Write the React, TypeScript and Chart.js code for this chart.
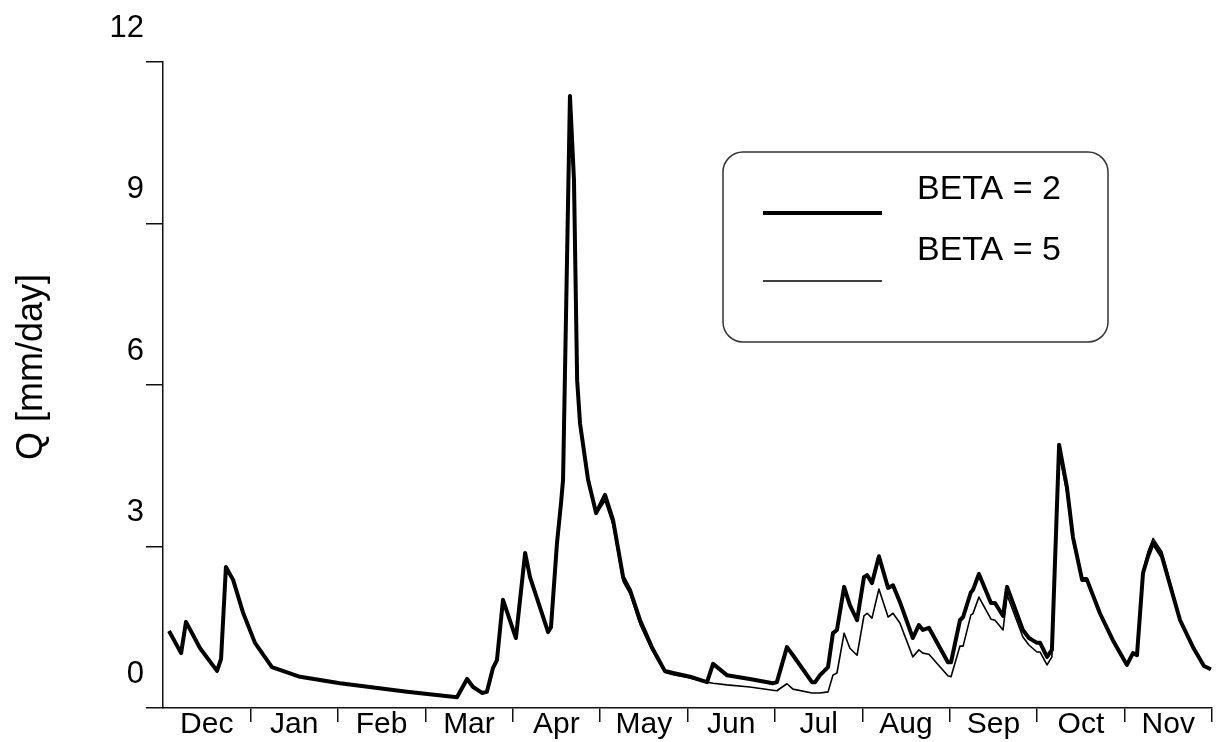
import { useEffect, useRef } from 'react';
import { Chart, registerables } from 'chart.js';

Chart.register(...registerables);

// Hydrological year, December to November
const months = ['Dec', 'Jan', 'Feb', 'Mar', 'Apr', 'May', 'Jun', 'Jul', 'Aug', 'Sep', 'Oct', 'Nov'];

// Day of the hydrological year (0 = 1 Dec) for each simulated value
const days = [
  2.1, 6.3, 8.0, 12.9, 18.8, 20.2, 21.9, 24.4, 27.8, 32.0,
  37.9, 47.7, 61.6, 84.9, 102.3, 105.8, 107.9, 111.0, 112.7, 114.8,
  116.2, 118.3, 122.8, 126.0, 127.7, 134.0, 135.0, 137.1, 138.5, 139.2,
  141.6, 143.0, 144.1, 145.1, 147.9, 150.7, 153.8, 156.6, 160.1, 162.5,
  166.0, 170.1, 174.6, 177.5, 183.4, 189.3, 191.4, 196.2, 204.2, 212.2,
  213.6, 217.1, 219.2, 225.8, 226.9, 228.6, 231.4, 233.1, 234.5, 237.0,
  239.0, 241.5, 243.9, 245.0, 246.7, 249.1, 252.3, 254.0, 256.4, 260.9,
  263.0, 264.4, 266.5, 273.1, 274.2, 277.3, 278.4, 281.1, 281.8, 283.9,
  288.1, 289.5, 292.3, 293.7, 299.2, 301.3, 304.1, 305.2, 307.6, 309.3,
  311.8, 314.5, 316.6, 319.8, 321.5, 326.0, 330.5, 335.4, 337.5, 338.9,
  341.0, 342.7, 344.5, 347.6, 353.9, 358.4, 362.2, 364.6,
];

// Runoff Q [mm/day] with BETA = 2
const betaTwo = [
  1.43, 1.02, 1.60, 1.11, 0.69, 0.91, 2.62, 2.38, 1.78, 1.21,
  0.76, 0.58, 0.46, 0.30, 0.20, 0.54, 0.39, 0.28, 0.30, 0.74,
  0.89, 2.01, 1.30, 2.88, 2.43, 1.41, 1.50, 3.07, 3.81, 4.24,
  11.37, 9.81, 6.09, 5.29, 4.24, 3.62, 3.96, 3.49, 2.43, 2.19,
  1.63, 1.13, 0.69, 0.65, 0.58, 0.48, 0.82, 0.61, 0.54, 0.46,
  0.48, 1.13, 0.98, 0.48, 0.48, 0.61, 0.76, 1.39, 1.45, 2.25,
  1.91, 1.63, 2.43, 2.47, 2.32, 2.82, 2.23, 2.28, 1.97, 1.30,
  1.54, 1.45, 1.49, 0.85, 0.85, 1.63, 1.69, 2.15, 2.19, 2.49,
  1.95, 1.95, 1.71, 2.25, 1.45, 1.30, 1.21, 1.21, 0.95, 1.08,
  4.89, 4.11, 3.18, 2.38, 2.38, 1.76, 1.26, 0.80, 1.02, 0.98,
  2.51, 2.81, 3.07, 2.81, 1.63, 1.13, 0.78, 0.72,
];

// Runoff Q [mm/day] with BETA = 5
const betaFive = [
  1.43, 1.02, 1.58, 1.10, 0.69, 0.90, 2.52, 2.42, 1.80, 1.22,
  0.76, 0.58, 0.46, 0.30, 0.20, 0.54, 0.39, 0.28, 0.30, 0.74,
  0.89, 2.01, 1.30, 2.86, 2.43, 1.41, 1.50, 3.07, 3.81, 4.24,
  11.07, 9.60, 6.00, 5.20, 4.20, 3.60, 3.85, 3.40, 2.35, 2.12,
  1.55, 1.08, 0.66, 0.62, 0.56, 0.48, 0.46, 0.43, 0.39, 0.33,
  0.32, 0.45, 0.35, 0.28, 0.28, 0.28, 0.30, 0.61, 0.65, 1.39,
  1.11, 0.98, 1.71, 1.76, 1.67, 2.21, 1.69, 1.76, 1.58, 0.95,
  1.08, 1.02, 1.00, 0.60, 0.58, 1.15, 1.15, 1.73, 1.75, 2.06,
  1.65, 1.63, 1.45, 2.10, 1.32, 1.17, 1.04, 1.04, 0.80, 0.95,
  4.74, 4.00, 3.10, 2.42, 2.42, 1.78, 1.28, 0.80, 1.02, 0.98,
  2.55, 2.90, 3.15, 2.90, 1.65, 1.13, 0.78, 0.72,
];

const seriesLabels = ['BETA = 2', 'BETA = 5'];
const axisTitle = 'Q [mm/day]';
const yMax = 12;
const yStep = 3;
const daysInYear = 365;

const FONT = '"Liberation Sans", Arial, Helvetica, sans-serif';
const INK = '#111';

// Draws the rotated axis title and the framed legend
const decorPlugin = {
  id: 'decor',
  afterDraw(chart: any) {
    const { ctx, chartArea } = chart;

    ctx.save();
    ctx.fillStyle = '#000';
    ctx.font = `36px ${FONT}`;
    ctx.textAlign = 'center';
    ctx.textBaseline = 'alphabetic';
    ctx.translate(42, (chartArea.top + chartArea.bottom) / 2 - 18);
    ctx.rotate(-Math.PI / 2);
    ctx.fillText(axisTitle, 0, 0);
    ctx.restore();

    const bx = chartArea.right - 489;
    const by = chartArea.top + 90;
    const bw = 385;
    const bh = 190;
    const r = 20;
    ctx.save();
    ctx.beginPath();
    ctx.moveTo(bx + r, by);
    ctx.arcTo(bx + bw, by, bx + bw, by + bh, r);
    ctx.arcTo(bx + bw, by + bh, bx, by + bh, r);
    ctx.arcTo(bx, by + bh, bx, by, r);
    ctx.arcTo(bx, by, bx + bw, by, r);
    ctx.closePath();
    ctx.fillStyle = '#fff';
    ctx.fill();
    ctx.lineWidth = 1.5;
    ctx.strokeStyle = '#333';
    ctx.stroke();

    chart.data.datasets.forEach((ds: any, i: number) => {
      const ly = by + 61 + i * 68;
      ctx.beginPath();
      ctx.moveTo(bx + 40, ly);
      ctx.lineTo(bx + 159, ly);
      ctx.lineWidth = ds.borderWidth;
      ctx.strokeStyle = ds.borderColor;
      ctx.lineCap = 'butt';
      ctx.stroke();

      ctx.fillStyle = '#000';
      ctx.font = `34px ${FONT}`;
      ctx.textAlign = 'left';
      ctx.textBaseline = 'alphabetic';
      ctx.fillText(ds.label, bx + 194, by + 47 + i * 61);
    });
    ctx.restore();
  },
};

export default function App() {
  const canvasRef = useRef<HTMLCanvasElement | null>(null);

  useEffect(() => {
    const canvas = canvasRef.current;
    if (!canvas) return;

    const toPoints = (values: number[]) => days.map((d, i) => ({ x: d, y: values[i] }));

    const chart = new Chart(canvas, {
      type: 'line',
      data: {
        datasets: [
          {
            label: seriesLabels[0],
            data: toPoints(betaTwo),
            borderColor: '#000',
            borderWidth: 4,
            pointRadius: 0,
            tension: 0,
            borderJoinStyle: 'round',
            xAxisID: 'x',
            yAxisID: 'y',
          },
          {
            label: seriesLabels[1],
            data: toPoints(betaFive),
            borderColor: '#000',
            borderWidth: 1.6,
            pointRadius: 0,
            tension: 0,
            borderJoinStyle: 'round',
            xAxisID: 'x',
            yAxisID: 'y',
          },
        ],
      },
      options: {
        responsive: false,
        animation: false,
        events: [],
        layout: { padding: { left: 0, top: 62, right: 6, bottom: 0 } },
        plugins: {
          legend: { display: false },
          tooltip: { enabled: false },
          title: { display: false },
        },
        scales: {
          x: {
            type: 'linear',
            min: 0,
            max: daysInYear,
            display: false,
          },
          m: {
            type: 'category',
            labels: months,
            position: 'bottom',
            offset: true,
            grid: {
              offset: true,
              drawOnChartArea: false,
              drawTicks: true,
              tickLength: 14,
              color: (c: any) => (c.index === 0 ? 'rgba(0,0,0,0)' : INK),
              lineWidth: 1.5,
            },
            border: { display: true, color: INK, width: 1.5 },
            ticks: {
              color: '#000',
              font: { family: FONT, size: 30 },
              padding: -15,
              autoSkip: false,
              maxRotation: 0,
            },
            afterFit: (s: any) => {
              s.height = 34;
            },
          },
          y: {
            type: 'linear',
            min: 0,
            max: yMax,
            grid: {
              drawOnChartArea: false,
              drawTicks: true,
              tickLength: 17,
              color: INK,
              lineWidth: 1.5,
            },
            border: { display: true, color: INK, width: 1.5 },
            ticks: {
              stepSize: yStep,
              color: '#000',
              font: { family: FONT, size: 31 },
              padding: 2,
              labelOffset: -34,
            },
            afterFit: (s: any) => {
              s.width = 163;
            },
          },
        },
      },
      plugins: [decorPlugin],
    });

    return () => chart.destroy();
  }, []);

  return (
    <div style={{ position: 'fixed', left: 0, top: 0, width: 1218, height: 742, background: '#fff' }}>
      <canvas ref={canvasRef} width={1218} height={742} style={{ display: 'block' }} />
    </div>
  );
}
